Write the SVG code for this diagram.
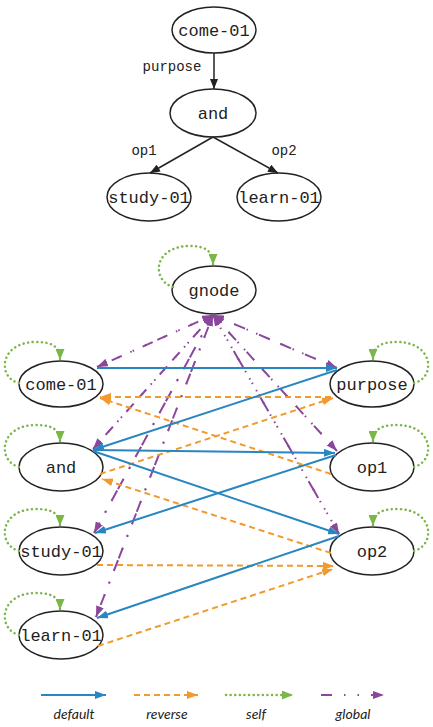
<svg xmlns="http://www.w3.org/2000/svg" width="433" height="727" viewBox="0 0 433 727">
<style>
.node ellipse{fill:#fff;stroke:#222;stroke-width:1.5}
.node text{font-family:"Liberation Mono",monospace;font-size:17px;fill:#222;text-anchor:middle}
.lbl{font-family:"Liberation Mono",monospace;font-size:14px;fill:#222;text-anchor:middle}
.tree{stroke:#222;stroke-width:1.5;fill:none}
.def{stroke:#2a86c0;stroke-width:2;fill:none}
.rev{stroke:#f29a2e;stroke-width:2;fill:none;stroke-dasharray:6 4}
.self{stroke:#7ab648;stroke-width:2.5;fill:none;stroke-dasharray:0.1 4.5;stroke-linecap:round}
.glob{stroke:#8b479b;stroke-width:2;fill:none;stroke-dasharray:11 12 1.5 12 1.5 12}
.leg{font-family:"Lato","DejaVu Sans",sans-serif;font-style:italic;font-size:14px;fill:#222;text-anchor:middle}
</style>
<defs>
<marker id="aK" markerUnits="userSpaceOnUse" markerWidth="10" markerHeight="8" refX="10" refY="4" orient="auto"><path d="M0,0 L10,4 L0,8 z" fill="#222"/></marker>
<marker id="aB" markerUnits="userSpaceOnUse" markerWidth="11" markerHeight="8" refX="11" refY="4" orient="auto"><path d="M0,0 L11,4 L0,8 z" fill="#2a86c0"/></marker>
<marker id="aO" markerUnits="userSpaceOnUse" markerWidth="11" markerHeight="8" refX="11" refY="4" orient="auto"><path d="M0,0 L11,4 L0,8 z" fill="#f29a2e"/></marker>
<marker id="aG" markerUnits="userSpaceOnUse" markerWidth="11" markerHeight="9" refX="11" refY="4.5" orient="auto"><path d="M0,0 L11,4.5 L0,9 z" fill="#7ab648"/></marker>
<marker id="aP" markerUnits="userSpaceOnUse" markerWidth="11" markerHeight="8" refX="11" refY="4" orient="auto"><path d="M0,0 L11,4 L0,8 z" fill="#8b479b"/></marker>
</defs>

<!-- top tree -->
<g id="t-come"><g class="node"><ellipse cx="214" cy="30" rx="42" ry="23"/><text x="214" y="36">come-01</text></g></g>
<g id="t-and"><g class="node"><ellipse cx="213" cy="113" rx="43" ry="24"/><text x="213" y="119">and</text></g></g>
<g id="t-study"><g class="node"><ellipse cx="149" cy="197" rx="42" ry="24"/><text x="149" y="203">study-01</text></g></g>
<g id="t-learn"><g class="node"><ellipse cx="279" cy="197" rx="42" ry="24"/><text x="279" y="203">learn-01</text></g></g>
<g id="t-edges">
<line class="tree" x1="214" y1="53" x2="214" y2="89" marker-end="url(#aK)"/>
<line class="tree" x1="213" y1="137" x2="150" y2="173" marker-end="url(#aK)"/>
<line class="tree" x1="213" y1="137" x2="278" y2="173" marker-end="url(#aK)"/>
<text class="lbl" x="172" y="71">purpose</text>
<text class="lbl" x="144" y="155">op1</text>
<text class="lbl" x="284" y="155">op2</text>
</g>

<!-- bottom graph nodes -->
<g id="gnode" class="node"><ellipse cx="214" cy="290" rx="42" ry="24"/><text x="214" y="296">gnode</text></g>
<g id="come-01" class="node"><ellipse cx="61" cy="384" rx="42" ry="23"/><text x="61" y="390">come-01</text></g>
<g id="purpose" class="node"><ellipse cx="372" cy="384" rx="42" ry="23"/><text x="372" y="390">purpose</text></g>
<g id="and" class="node"><ellipse cx="61" cy="467" rx="42" ry="24"/><text x="61" y="473">and</text></g>
<g id="op1" class="node"><ellipse cx="372" cy="467" rx="42" ry="24"/><text x="372" y="473">op1</text></g>
<g id="study-01" class="node"><ellipse cx="61" cy="551" rx="42" ry="24"/><text x="61" y="557">study-01</text></g>
<g id="op2" class="node"><ellipse cx="372" cy="551" rx="42" ry="24"/><text x="372" y="557">op2</text></g>
<g id="learn-01" class="node"><ellipse cx="61" cy="635" rx="42" ry="24"/><text x="61" y="641">learn-01</text></g>

<g id="connectors">
<!-- self loops -->
<path class="self" transform="translate(214,290)" d="M-41,-3 C-62,-9 -62,-43 -25,-44 C-8,-44 -1,-39 -1,-25" marker-end="url(#aG)"/>
<path class="self" transform="translate(61,384)" d="M-42,-1 C-64,-6 -62,-42 -25,-42 C-8,-42 -1,-37 -1,-24" marker-end="url(#aG)"/>
<path class="self" transform="translate(61,467)" d="M-42,0 C-64,-6 -62,-42 -25,-42 C-8,-42 -1,-37 -1,-25" marker-end="url(#aG)"/>
<path class="self" transform="translate(61,551)" d="M-42,0 C-64,-6 -62,-42 -25,-42 C-8,-42 -1,-37 -1,-25" marker-end="url(#aG)"/>
<path class="self" transform="translate(61,635)" d="M-42,0 C-64,-6 -62,-42 -25,-42 C-8,-42 -1,-37 -1,-25" marker-end="url(#aG)"/>
<path class="self" transform="translate(372,384)" d="M42,-1 C64,-6 62,-42 25,-42 C8,-42 1,-37 1,-24" marker-end="url(#aG)"/>
<path class="self" transform="translate(372,467)" d="M42,0 C64,-6 62,-42 25,-42 C8,-42 1,-37 1,-25" marker-end="url(#aG)"/>
<path class="self" transform="translate(372,551)" d="M42,0 C64,-6 62,-42 25,-42 C8,-42 1,-37 1,-25" marker-end="url(#aG)"/>

<!-- global -->
<line class="glob" x1="213" y1="315" x2="97" y2="367" marker-end="url(#aP)"/>
<line class="glob" x1="97" y1="367" x2="213" y2="315" marker-end="url(#aP)"/>
<line class="glob" x1="213" y1="315" x2="337" y2="368" marker-end="url(#aP)"/>
<line class="glob" x1="337" y1="368" x2="213" y2="315" marker-end="url(#aP)"/>
<line class="glob" x1="213" y1="315" x2="93" y2="449" marker-end="url(#aP)"/>
<line class="glob" x1="93" y1="449" x2="213" y2="315" marker-end="url(#aP)"/>
<line class="glob" x1="213" y1="315" x2="337" y2="451" marker-end="url(#aP)"/>
<line class="glob" x1="337" y1="451" x2="213" y2="315" marker-end="url(#aP)"/>
<line class="glob" x1="213" y1="315" x2="94" y2="533" marker-end="url(#aP)"/>
<line class="glob" x1="94" y1="533" x2="213" y2="315" marker-end="url(#aP)"/>
<line class="glob" x1="213" y1="315" x2="339" y2="534" marker-end="url(#aP)"/>
<line class="glob" x1="339" y1="534" x2="213" y2="315" marker-end="url(#aP)"/>
<line class="glob" x1="213" y1="315" x2="96" y2="617" marker-end="url(#aP)"/>
<line class="glob" x1="96" y1="617" x2="213" y2="315" marker-end="url(#aP)"/>

<!-- reverse -->
<line class="rev" x1="331" y1="397" x2="100" y2="397" marker-end="url(#aO)"/>
<line class="rev" x1="331" y1="474" x2="100" y2="398" marker-end="url(#aO)"/>
<line class="rev" x1="100" y1="474" x2="333" y2="398" marker-end="url(#aO)"/>
<line class="rev" x1="331" y1="553" x2="102" y2="479" marker-end="url(#aO)"/>
<line class="rev" x1="97" y1="565" x2="334" y2="566" marker-end="url(#aO)"/>
<line class="rev" x1="98" y1="646" x2="333" y2="569" marker-end="url(#aO)"/>

<!-- default -->
<line class="def" x1="97" y1="368" x2="337" y2="368" marker-end="url(#aB)"/>
<line class="def" x1="337" y1="370" x2="93" y2="450" marker-end="url(#aB)"/>
<line class="def" x1="93" y1="450" x2="335" y2="453" marker-end="url(#aB)"/>
<line class="def" x1="93" y1="451" x2="339" y2="534" marker-end="url(#aB)"/>
<line class="def" x1="336" y1="455" x2="95" y2="533" marker-end="url(#aB)"/>
<line class="def" x1="339" y1="536" x2="97" y2="618" marker-end="url(#aB)"/>
</g>

<g id="legend">
<line class="def" x1="41" y1="695" x2="106" y2="695" marker-end="url(#aB)"/>
<line class="rev" x1="134" y1="695" x2="198" y2="695" marker-end="url(#aO)"/>
<line class="self" x1="226" y1="695" x2="293" y2="695" marker-end="url(#aG)"/>
<line class="glob" x1="321" y1="695" x2="384" y2="695" marker-end="url(#aP)"/>
<text class="leg" x="74" y="719">default</text>
<text class="leg" x="167" y="719">reverse</text>
<text class="leg" x="256" y="719">self</text>
<text class="leg" x="353" y="719">global</text>
</g>
</svg>
